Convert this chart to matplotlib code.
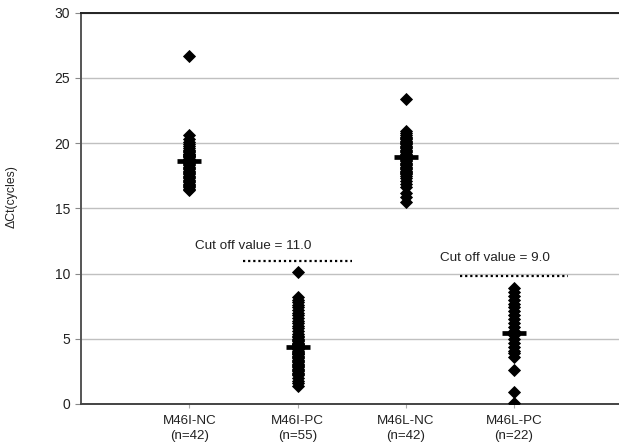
import matplotlib
matplotlib.use("Agg")
import matplotlib.pyplot as plt

plt.rcParams['font.family'] = ['Liberation Sans', 'DejaVu Sans']

categories = ["M46I-NC\n(n=42)", "M46I-PC\n(n=55)", "M46L-NC\n(n=42)", "M46L-PC\n(n=22)"]

m46i_nc = [26.7, 20.6, 20.3, 20.1, 19.9, 19.8, 19.6, 19.5, 19.4, 19.3, 19.2, 19.1,
           19.0, 18.9, 18.8, 18.7, 18.6, 18.5, 18.4, 18.3, 18.2, 18.1, 18.0, 17.9,
           17.8, 17.7, 17.6, 17.5, 17.4, 17.3, 17.2, 17.1, 17.0, 16.9, 16.8, 16.7,
           16.6, 16.5, 16.4, 19.0, 19.2, 18.8]
m46i_pc = [10.1, 8.2, 8.0, 7.8, 7.6, 7.4, 7.2, 7.0, 6.8, 6.6, 6.4, 6.2, 6.0, 5.8,
           5.6, 5.4, 5.2, 5.0, 4.9, 4.8, 4.7, 4.6, 4.5, 4.4, 4.3, 4.2, 4.1, 4.0,
           3.9, 3.8, 3.7, 3.6, 3.5, 3.4, 3.3, 3.2, 3.1, 3.0, 2.9, 2.8, 2.7, 2.6,
           2.5, 2.4, 2.3, 2.2, 2.0, 1.8, 1.6, 1.4, 4.4, 4.2, 3.8, 5.1, 4.6]
m46l_nc = [23.4, 20.9, 20.8, 20.6, 20.5, 20.4, 20.3, 20.2, 20.1, 20.0, 19.9, 19.8,
           19.7, 19.6, 19.5, 19.4, 19.3, 19.2, 19.1, 19.0, 18.9, 18.8, 18.7, 18.6,
           18.5, 18.4, 18.3, 18.2, 18.1, 18.0, 17.9, 17.8, 17.7, 17.6, 17.5, 17.3,
           17.1, 16.9, 16.6, 16.2, 15.9, 15.5]
m46l_pc = [8.9, 8.6, 8.3, 8.0, 7.7, 7.4, 7.1, 6.8, 6.5, 6.2, 5.9, 5.6, 5.3, 5.0,
           4.7, 4.4, 4.1, 3.9, 3.6, 2.6, 0.9, 0.1]
groups = [m46i_nc, m46i_pc, m46l_nc, m46l_pc]
means = [18.6, 4.35, 18.9, 5.47]

cutoff_values = [11.0, 9.8]
cutoff_labels = ["Cut off value = 11.0", "Cut off value = 9.0"]
cutoff_groups = [2, 4]

fig = plt.figure(figsize=(6.19, 4.44), dpi=100)
ax = fig.add_axes([0.1309, 0.0901, 0.8691, 0.8813])

for i, vals in enumerate(groups):
    x = i + 1
    ax.plot([x] * len(vals), vals, linestyle='none', marker='D', markersize=6.4,
            color='black', markeredgewidth=0.6, zorder=3)
    ax.plot([x], [means[i]], linestyle='none', marker='_', markersize=17,
            markeredgewidth=3.4, color='black', zorder=4)

for val, lab, g in zip(cutoff_values, cutoff_labels, cutoff_groups):
    ax.plot([g - 0.5, g + 0.5], [val, val], color='black', lw=1.6,
            linestyle=(0, (1, 1.3)), zorder=3)

ax.text(1.59, 12.1, cutoff_labels[0], ha='center', va='center', fontsize=9.7, color='#222222')
ax.text(3.82, 11.2, cutoff_labels[1], ha='center', va='center', fontsize=9.7, color='#222222')

ax.set_xlim(0, 4.97)
ax.set_ylim(0, 30)
ax.set_yticks([0, 5, 10, 15, 20, 25, 30])
ax.set_xticks([1, 2, 3, 4])
ax.set_xticklabels(categories, fontsize=9.6, color='#222222', linespacing=1.3)
ax.tick_params(axis='y', labelsize=10, length=4, width=0.8, color='#888888', labelcolor='#222222', pad=4)
ax.tick_params(axis='x', length=3, width=0.8, color='#aaaaaa', pad=5)

ax.yaxis.grid(True, color='#c0c0c0', linewidth=1.0)
ax.set_axisbelow(True)

ax.spines['right'].set_visible(False)
ax.spines['top'].set_color('#222222')
ax.spines['top'].set_linewidth(1.4)
ax.spines['left'].set_color('#555555')
ax.spines['left'].set_linewidth(1.4)
ax.spines['bottom'].set_color('#444444')
ax.spines['bottom'].set_linewidth(1.4)

ax.set_ylabel("ΔCt(cycles)", fontsize=8.8, color='#222222')
ax.yaxis.set_label_coords(-0.118, 0.53)

fig.savefig("out.png", dpi=100)
